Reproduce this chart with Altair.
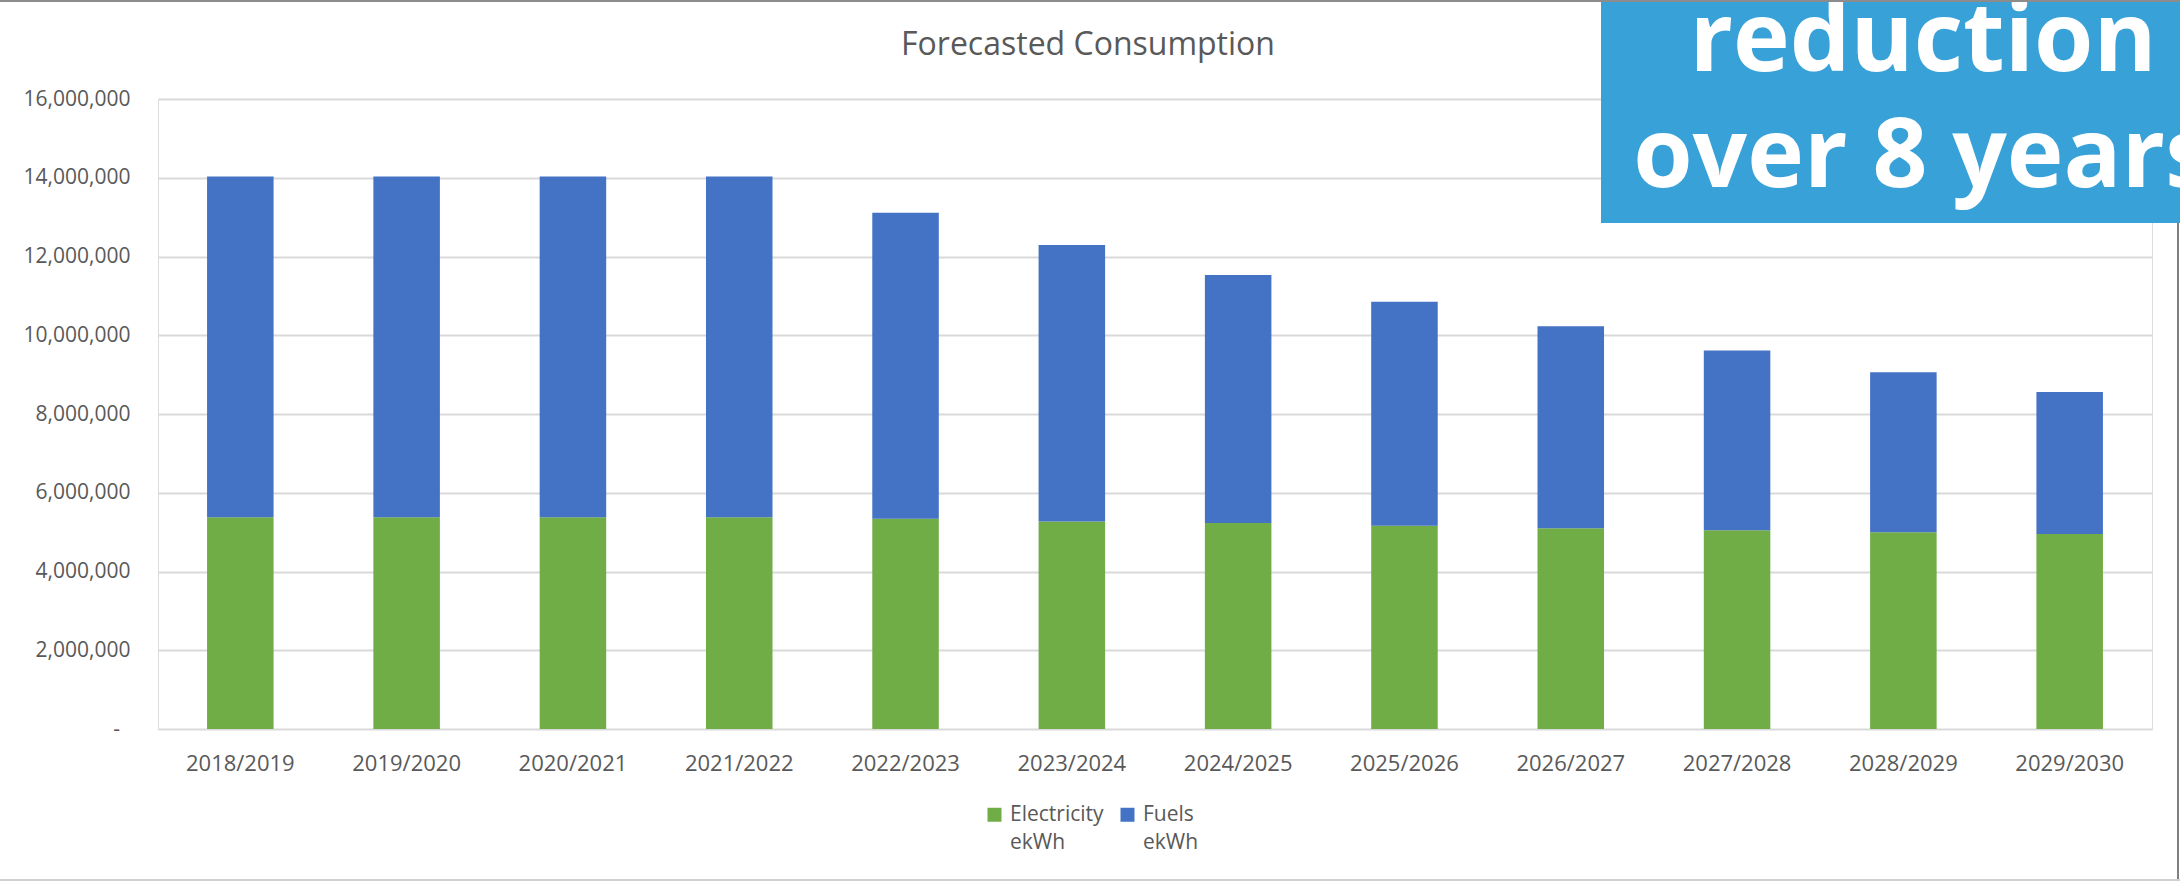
import altair as alt
import pandas as pd

years = ["2018/2019", "2019/2020", "2020/2021", "2021/2022", "2022/2023", "2023/2024",
         "2024/2025", "2025/2026", "2026/2027", "2027/2028", "2028/2029", "2029/2030"]
electricity = [5380000, 5380000, 5380000, 5380000, 5340000, 5270000,
               5230000, 5160000, 5100000, 5050000, 5000000, 4950000]
fuels = [8650000, 8650000, 8650000, 8650000, 7770000, 7020000,
         6300000, 5690000, 5130000, 4560000, 4060000, 3610000]
series = ["Electricity ekWh", "Fuels ekWh"]
colors = ["#70AD47", "#4472C4"]
y_ticks = [0, 2000000, 4000000, 6000000, 8000000, 10000000, 12000000, 14000000, 16000000]
title_text = "Forecasted Consumption"
banner_lines = ["reduction", "over 8 years"]

rows = []
for i, yr in enumerate(years):
    rows.append({"year": yr, "series": series[0], "value": electricity[i], "order": 0})
    rows.append({"year": yr, "series": series[1], "value": fuels[i], "order": 1})
df = pd.DataFrame(rows)

FONT = "Open Sans"
TEXT = "#595959"
W, H = 1994, 630
PL, PT = 158, 99
PR = 2180 - PL - W
PB = 881 - PT - H

bars = alt.Chart(df).mark_bar(strokeWidth=0).encode(
    x=alt.X("year:N", sort=years, title=None,
            scale=alt.Scale(paddingInner=0.6, paddingOuter=0.295),
            axis=alt.Axis(labelAngle=0, labelFont=FONT, labelFontSize=22, labelColor=TEXT,
                          labelPadding=24, ticks=False, domain=False, grid=False,
                          labelBaseline="top")),
    y=alt.Y("value:Q", stack="zero", title=None,
            scale=alt.Scale(domain=[0, 16000000], nice=False),
            axis=alt.Axis(values=y_ticks,
                          labelExpr="datum.value == 0 ? '-\u2002\u200b' : format(datum.value, ',')",
                          labelFont=FONT, labelFontSize=21, labelColor=TEXT, labelPadding=28,
                          ticks=False, domain=False, gridColor="#D9D9D9", gridWidth=2)),
    color=alt.Color("series:N", scale=alt.Scale(domain=series, range=colors),
                    legend=alt.Legend(orient="none", legendX=826, legendY=705,
                                      direction="horizontal", title=None,
                                      symbolType="square", symbolSize=196, symbolStrokeWidth=0,
                                      labelFont=FONT, labelFontSize=21, labelColor=TEXT,
                                      labelOffset=5, columnPadding=13, padding=0,
                                      labelExpr="split(datum.label, ' ')",
                                      labelBaseline="middle", labelLimit=400)),
    order=alt.Order("order:Q", sort="ascending"),
)

one = pd.DataFrame({"k": [0]})

title = alt.Chart(one).mark_text(font=FONT, fontSize=32, color=TEXT, align="center",
                                 baseline="alphabetic").encode(
    x=alt.value(930), y=alt.value(-44), text=alt.value(title_text))

box = alt.Chart(one).mark_rect(color="#38A1D8").encode(
    x=alt.value(1443), x2=alt.value(2030), y=alt.value(-100), y2=alt.value(124))

t1 = alt.Chart(one).mark_text(font=FONT, fontSize=96, fontWeight="bold", color="white",
                              align="center", baseline="alphabetic").encode(
    x=alt.value(1765), y=alt.value(-28), text=alt.value(banner_lines[0]))
t2 = alt.Chart(one).mark_text(font=FONT, fontSize=96, fontWeight="bold", color="white",
                              align="center", baseline="alphabetic").encode(
    x=alt.value(1765), y=alt.value(88), text=alt.value(banner_lines[1]))

border_top = alt.Chart(one).mark_rule(color="#8C8C8C", strokeWidth=2).encode(
    x=alt.value(-158), x2=alt.value(2022), y=alt.value(-98))
border_right = alt.Chart(one).mark_rule(color="#7F7F7F", strokeWidth=2).encode(
    x=alt.value(2020), y=alt.value(124), y2=alt.value(782))
border_bottom = alt.Chart(one).mark_rule(color="#D0D0D0", strokeWidth=2).encode(
    x=alt.value(-158), x2=alt.value(2022), y=alt.value(781))

chart = alt.layer(bars, title, box, t1, t2, border_top, border_right, border_bottom).properties(
    width=W, height=H,
    autosize=alt.AutoSizeParams(type="none"),
    padding={"left": PL, "top": PT, "right": PR, "bottom": PB},
    background="white",
).configure_view(stroke=None).configure(style={"guide-label": {"lineHeight": 28}})

chart.save("out.html", embed_options={"renderer": "svg", "actions": False})
